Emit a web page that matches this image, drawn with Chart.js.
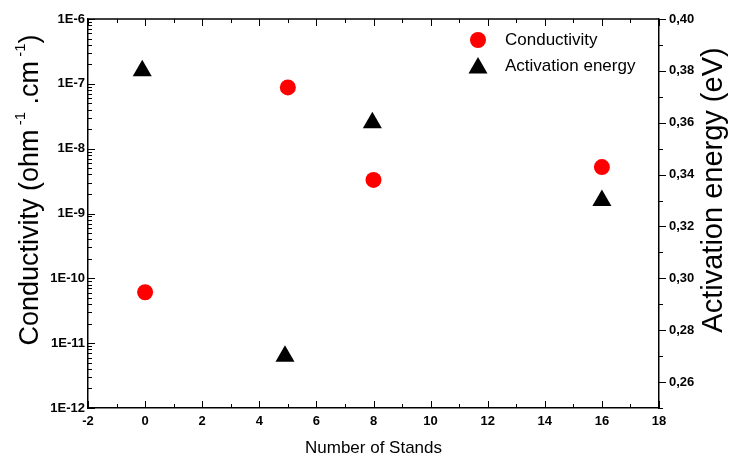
<!DOCTYPE html>
<html>
<head>
<meta charset="utf-8">
<script src="https://cdn.jsdelivr.net/npm/chart.js@4.4.1/dist/chart.umd.min.js"></script>
<style>
  html, body { margin: 0; padding: 0; background: #fff; }
  #wrap { width: 729px; height: 459px; }
</style>
</head>
<body>
<div id="wrap"><canvas id="grafico" width="729" height="459"></canvas></div>
<script>
// Datos
const estandesCond = [0, 5, 8, 16];
const conductividad = [6.1e-11, 8.8e-8, 3.3e-9, 5.2e-9];
const estandesEnergia = [-0.1, 4.9, 7.96, 16];
const energiaActivacion = [0.38, 0.27, 0.36, 0.33];

const tituloX = 'Number of Stands';
const tituloEnergia = 'Activation energy (eV)';
const leyenda = ['Conductivity', 'Activation energy'];

const fuente = "'Liberation Sans', Arial, sans-serif";
const fuenteTicks = { family: fuente, size: 13, weight: 'bold' };

// Pares {x, y} para cada serie
const datosCond = estandesCond.map((x, i) => ({ x, y: conductividad[i] }));
const datosEnergia = estandesEnergia.map((x, i) => ({ x, y: energiaActivacion[i] }));

// Etiqueta tipo 1E-6 solo en potencias de diez
function etiquetaLog(v) {
    const l = Math.log10(v);
    return Math.abs(l - Math.round(l)) < 1e-6 ? '1E' + Math.round(l) : '';
}

// Marcas hacia adentro, marco superior, títulos y leyenda
const marcoPlugin = {
    id: 'marco',
    afterDraw(chart) {
        const { ctx, chartArea: a, scales } = chart;
        ctx.save();
        ctx.strokeStyle = '#000';
        ctx.lineWidth = 1.5;

        // línea superior
        ctx.beginPath();
        ctx.moveTo(a.left, a.top);
        ctx.lineTo(a.right, a.top);
        ctx.stroke();

        ctx.lineWidth = 1;
        // eje x: marcas abajo y arriba
        for (let v = -2; v <= 18; v++) {
            const px = Math.round(scales.x.getPixelForValue(v)) + 0.5;
            const len = v % 2 === 0 ? 7 : 4;
            ctx.beginPath();
            ctx.moveTo(px, a.bottom); ctx.lineTo(px, a.bottom - len);
            ctx.moveTo(px, a.top); ctx.lineTo(px, a.top + len);
            ctx.stroke();
        }
        // eje izquierdo logarítmico
        for (let e = -12; e <= -6; e++) {
            for (let m = 1; m <= 9; m++) {
                if (e === -6 && m > 1) break;
                const py = Math.round(scales.y.getPixelForValue(m * Math.pow(10, e))) + 0.5;
                const len = m === 1 ? 7 : 4;
                ctx.beginPath();
                ctx.moveTo(a.left, py); ctx.lineTo(a.left + len, py);
                ctx.stroke();
            }
        }
        // eje derecho hacia afuera
        for (let k = 25; k <= 40; k++) {
            const py = Math.round(scales.y2.getPixelForValue(k / 100)) + 0.5;
            const len = k % 2 === 0 ? 7 : 4;
            ctx.beginPath();
            ctx.moveTo(a.right, py); ctx.lineTo(a.right + len, py);
            ctx.stroke();
        }

        ctx.fillStyle = '#000';
        ctx.textBaseline = 'middle';

        // título izquierdo con superíndices
        const partes = [
            { t: 'Conductivity (ohm', s: 27, up: 0 },
            { t: ' -1', s: 15, up: 10 },
            { t: ' .cm', s: 27, up: 0 },
            { t: ' -1', s: 15, up: 10 },
            { t: ')', s: 27, up: 0 }
        ];
        let total = 0;
        partes.forEach(p => { ctx.font = `${p.s}px ${fuente}`; p.w = ctx.measureText(p.t).width; total += p.w; });
        ctx.save();
        ctx.translate(31, 190);
        ctx.rotate(-Math.PI / 2);
        ctx.textAlign = 'left';
        let cx = -total / 2;
        partes.forEach(p => {
            ctx.font = `${p.s}px ${fuente}`;
            ctx.fillText(p.t, cx, -p.up);
            cx += p.w;
        });
        ctx.restore();

        // título derecho
        ctx.save();
        ctx.translate(714, 190);
        ctx.rotate(-Math.PI / 2);
        ctx.textAlign = 'center';
        ctx.font = `29px ${fuente}`;
        ctx.fillText(tituloEnergia, 0, 0);
        ctx.restore();

        // leyenda dentro del área
        const items = chart.data.datasets;
        items.forEach((ds, i) => {
            const y = 40 + i * 26;
            ctx.fillStyle = ds.backgroundColor;
            Chart.helpers.drawPoint(ctx, { pointStyle: ds.pointStyle, radius: ds.pointRadius, rotation: 0, borderWidth: 0 }, 478, ds.pointStyle === 'triangle' ? y + 2 : y);
            ctx.fillStyle = '#000';
            ctx.textAlign = 'left';
            ctx.font = `17px ${fuente}`;
            ctx.fillText(leyenda[i], 505, y);
        });

        ctx.restore();
    }
};

new Chart(document.getElementById('grafico'), {
    type: 'scatter',
    data: {
        datasets: [{
            label: leyenda[0],
            data: datosCond,
            yAxisID: 'y',
            pointStyle: 'circle',
            pointRadius: 8,
            backgroundColor: '#ff0000',
            borderWidth: 0,
        }, {
            label: leyenda[1],
            data: datosEnergia,
            yAxisID: 'y2',
            pointStyle: 'triangle',
            pointRadius: 11,
            backgroundColor: '#000000',
            borderWidth: 0,
        }],
    },
    options: {
        responsive: false,
        animation: false,
        events: [],
        layout: { padding: { top: 19, right: 0, left: 0, bottom: 0 } },
        plugins: {
            legend: { display: false },
            tooltip: { enabled: false },
        },
        scales: {
            x: {
                type: 'linear',
                position: 'bottom',
                min: -2,
                max: 18,
                grid: { display: false, drawTicks: false },
                border: { color: '#000', width: 1.5 },
                ticks: {
                    stepSize: 1,
                    autoSkip: false,
                    maxRotation: 0,
                    color: '#000',
                    font: fuenteTicks,
                    padding: 6,
                    callback: v => (v % 2 === 0 ? String(v) : ''),
                },
                title: {
                    display: true,
                    text: tituloX,
                    color: '#000',
                    font: { family: fuente, size: 17 },
                    padding: { top: 8, bottom: 0 },
                },
                afterFit: s => { s.height = 51; },
            },
            y: {
                type: 'logarithmic',
                position: 'left',
                min: 1e-12,
                max: 1e-6,
                grid: { display: false, drawTicks: false },
                border: { color: '#000', width: 1.5 },
                ticks: {
                    autoSkip: false,
                    color: '#000',
                    font: fuenteTicks,
                    padding: 3,
                    callback: etiquetaLog,
                },
                afterFit: s => { s.width = 88; },
            },
            y2: {
                type: 'linear',
                position: 'right',
                min: 0.25,
                max: 0.40,
                grid: { display: false, drawTicks: false },
                border: { color: '#000', width: 1.5 },
                ticks: {
                    stepSize: 0.01,
                    autoSkip: false,
                    color: '#000',
                    font: fuenteTicks,
                    padding: 10,
                    callback: v => (Math.round(v * 100) % 2 === 0 ? v.toFixed(2).replace('.', ',') : ''),
                },
                afterFit: s => { s.width = 70; },
            },
        },
    },
    plugins: [marcoPlugin],
});
</script>
</body>
</html>
